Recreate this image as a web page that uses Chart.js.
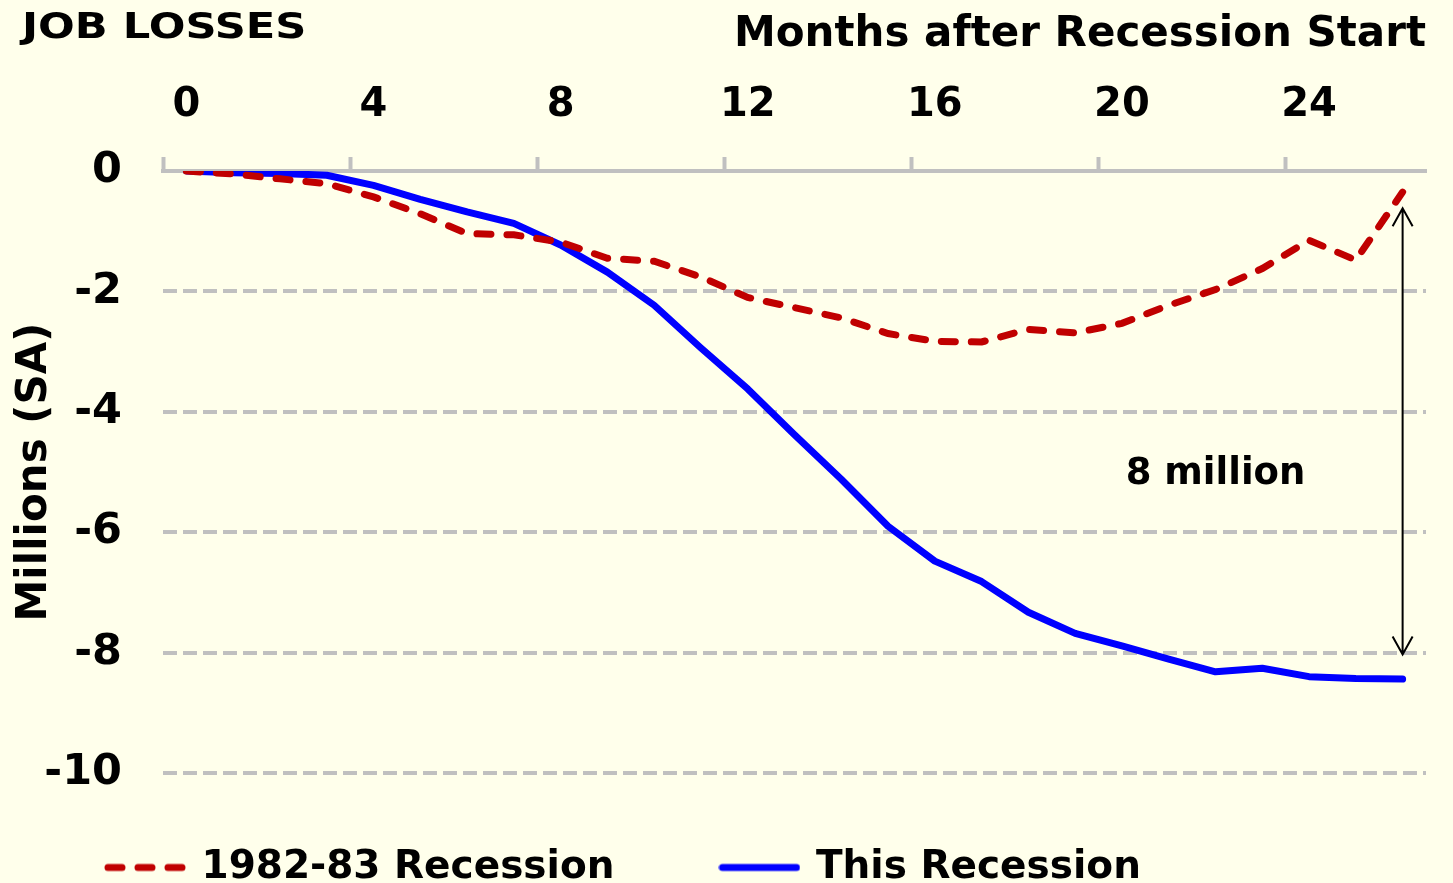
<!DOCTYPE html>
<html>
<head>
<meta charset="utf-8">
<script src="https://cdn.jsdelivr.net/npm/chart.js@4.4.1/dist/chart.umd.min.js"></script>
<style>
html, body { margin: 0; padding: 0; background: #ffffeb; overflow: hidden; }
</style>
</head>
<body>
<canvas id="graph" width="1453" height="930"></canvas>
<script>
// months after recession start
const months = [0, 1, 2, 3, 4, 5, 6, 7, 8, 9, 10, 11, 12, 13, 14, 15, 16, 17, 18, 19, 20, 21, 22, 23, 24, 25, 26];
const monthTickLabels = [0, 4, 8, 12, 16, 20, 24];

// job losses, millions (SA)
const recession8283 = [0, -0.05, -0.13, -0.21, -0.43, -0.71, -1.04, -1.06, -1.18, -1.45, -1.5, -1.76, -2.1, -2.27, -2.44, -2.7, -2.83, -2.84, -2.63, -2.69, -2.53, -2.23, -1.97, -1.62, -1.15, -1.48, -0.35];
const thisRecession = [0, -0.03, -0.04, -0.07, -0.24, -0.47, -0.68, -0.87, -1.23, -1.68, -2.23, -2.94, -3.62, -4.38, -5.12, -5.9, -6.48, -6.82, -7.33, -7.68, -7.89, -8.11, -8.32, -8.26, -8.4, -8.43, -8.44];

const gapArrow = { month: 26, from: -0.62, to: -8.03 };
const gapLabel = { month: 22, value: -5.04, text: '8 million' };

const FONT = 'DejaVu Sans';
const GREY = '#c0c0c0';

Chart.defaults.font.family = FONT;
Chart.defaults.font.weight = 'bold';
Chart.defaults.color = '#000';

// small picture of a dataset's line, used as its legend symbol
function lineSample(ds) {
    const c = document.createElement('canvas');
    c.width = 82;
    c.height = 12;
    const g = c.getContext('2d');
    g.strokeStyle = ds.borderColor;
    g.lineWidth = ds.borderWidth;
    g.lineCap = 'round';
    g.setLineDash(ds.borderDash || []);
    g.beginPath();
    g.moveTo(4, 6);
    g.lineTo(78, 6);
    g.stroke();
    return c;
}

// the legend sits lower than Chart.js would put it
const legendShift = {
    id: 'legendShift',
    afterLayout(chart) {
        chart.legend.top -= 33;
        chart.legend.bottom -= 33;
    }
};

const extras = {
    id: 'extras',
    afterDatasetsDraw(chart) {
        const ctx = chart.ctx;
        const x = chart.scales.x;
        const y = chart.scales.y;
        ctx.save();
        ctx.fillStyle = '#000';

        ctx.save();
        ctx.translate(22, 38);
        ctx.scale(1.2, 1);
        ctx.font = 'bold 36px "' + FONT + '"';
        ctx.textAlign = 'left';
        ctx.textBaseline = 'alphabetic';
        ctx.fillText('JOB LOSSES', 0, 0);
        ctx.restore();

        ctx.font = 'bold 37px "' + FONT + '"';
        ctx.textAlign = 'center';
        ctx.textBaseline = 'middle';
        ctx.fillText(gapLabel.text, x.getPixelForValue(gapLabel.month), y.getPixelForValue(gapLabel.value));

        const ax = x.getPixelForValue(gapArrow.month);
        const y1 = y.getPixelForValue(gapArrow.from);
        const y2 = y.getPixelForValue(gapArrow.to);
        ctx.strokeStyle = '#000';
        ctx.lineWidth = 2;
        ctx.beginPath();
        ctx.moveTo(ax, y1);
        ctx.lineTo(ax, y2);
        ctx.moveTo(ax - 10, y1 + 18);
        ctx.lineTo(ax, y1);
        ctx.lineTo(ax + 10, y1 + 18);
        ctx.moveTo(ax - 10, y2 - 18);
        ctx.lineTo(ax, y2);
        ctx.lineTo(ax + 10, y2 - 18);
        ctx.stroke();
        ctx.restore();
    }
};

const chart = new Chart(document.getElementById('graph'), {
    type: 'line',
    data: {
        labels: months,
        datasets: [
            {
                label: '1982-83 Recession',
                data: recession8283,
                borderColor: '#c00000',
                borderWidth: 7,
                borderDash: [14, 16],
                borderCapStyle: 'round',
                pointRadius: 0,
                fill: false
            },
            {
                label: 'This Recession',
                data: thisRecession,
                borderColor: '#0000ff',
                borderWidth: 7,
                borderCapStyle: 'round',
                borderJoinStyle: 'round',
                pointRadius: 0,
                fill: false
            }
        ]
    },
    options: {
        responsive: false,
        animation: false,
        layout: { padding: { left: 0, top: 0, right: 27, bottom: 0 } },
        plugins: {
            tooltip: { enabled: false },
            legend: {
                position: 'bottom',
                align: 'start',
                labels: {
                    usePointStyle: true,
                    pointStyleWidth: 74,
                    padding: 108,
                    color: '#000',
                    font: { size: 39, weight: 'bold' },
                    generateLabels(chart) {
                        const items = Chart.defaults.plugins.legend.labels.generateLabels(chart);
                        items.forEach(it => {
                            it.pointStyle = lineSample(chart.data.datasets[it.datasetIndex]);
                        });
                        return items;
                    }
                }
            }
        },
        scales: {
            x: {
                position: 'top',
                offset: true,
                grid: {
                    offset: true,
                    drawOnChartArea: false,
                    tickLength: 14,
                    tickWidth: 4,
                    tickColor: c => c.index % 4 === 0 ? GREY : 'rgba(0,0,0,0)'
                },
                border: { color: GREY, width: 4 },
                ticks: {
                    autoSkip: false,
                    maxRotation: 0,
                    padding: 27,
                    font: { size: 40, weight: 'bold' },
                    callback: function (value) {
                        const m = Number(this.getLabelForValue(value));
                        return monthTickLabels.includes(m) ? String(m) : '';
                    }
                },
                title: {
                    display: true,
                    text: 'Months after Recession Start',
                    align: 'end',
                    padding: { top: 10, bottom: 0 },
                    font: { size: 42, weight: 'bold' }
                },
                afterFit: s => { s.height = 171; }
            },
            y: {
                min: -10,
                max: 0,
                grid: {
                    drawTicks: false,
                    lineWidth: 4,
                    color: c => c.tick && c.tick.value === 0 ? 'rgba(0,0,0,0)' : GREY
                },
                border: { display: false, dash: [14, 6] },
                ticks: {
                    stepSize: 2,
                    padding: 41,
                    font: { size: 43, weight: 'bold' }
                },
                title: {
                    display: true,
                    text: 'Millions (SA)',
                    padding: { top: 10, bottom: 0 },
                    font: { size: 42, weight: 'bold' }
                },
                afterFit: s => { s.width = 163; }
            }
        }
    },
    plugins: [legendShift, extras]
});
</script>
</body>
</html>
